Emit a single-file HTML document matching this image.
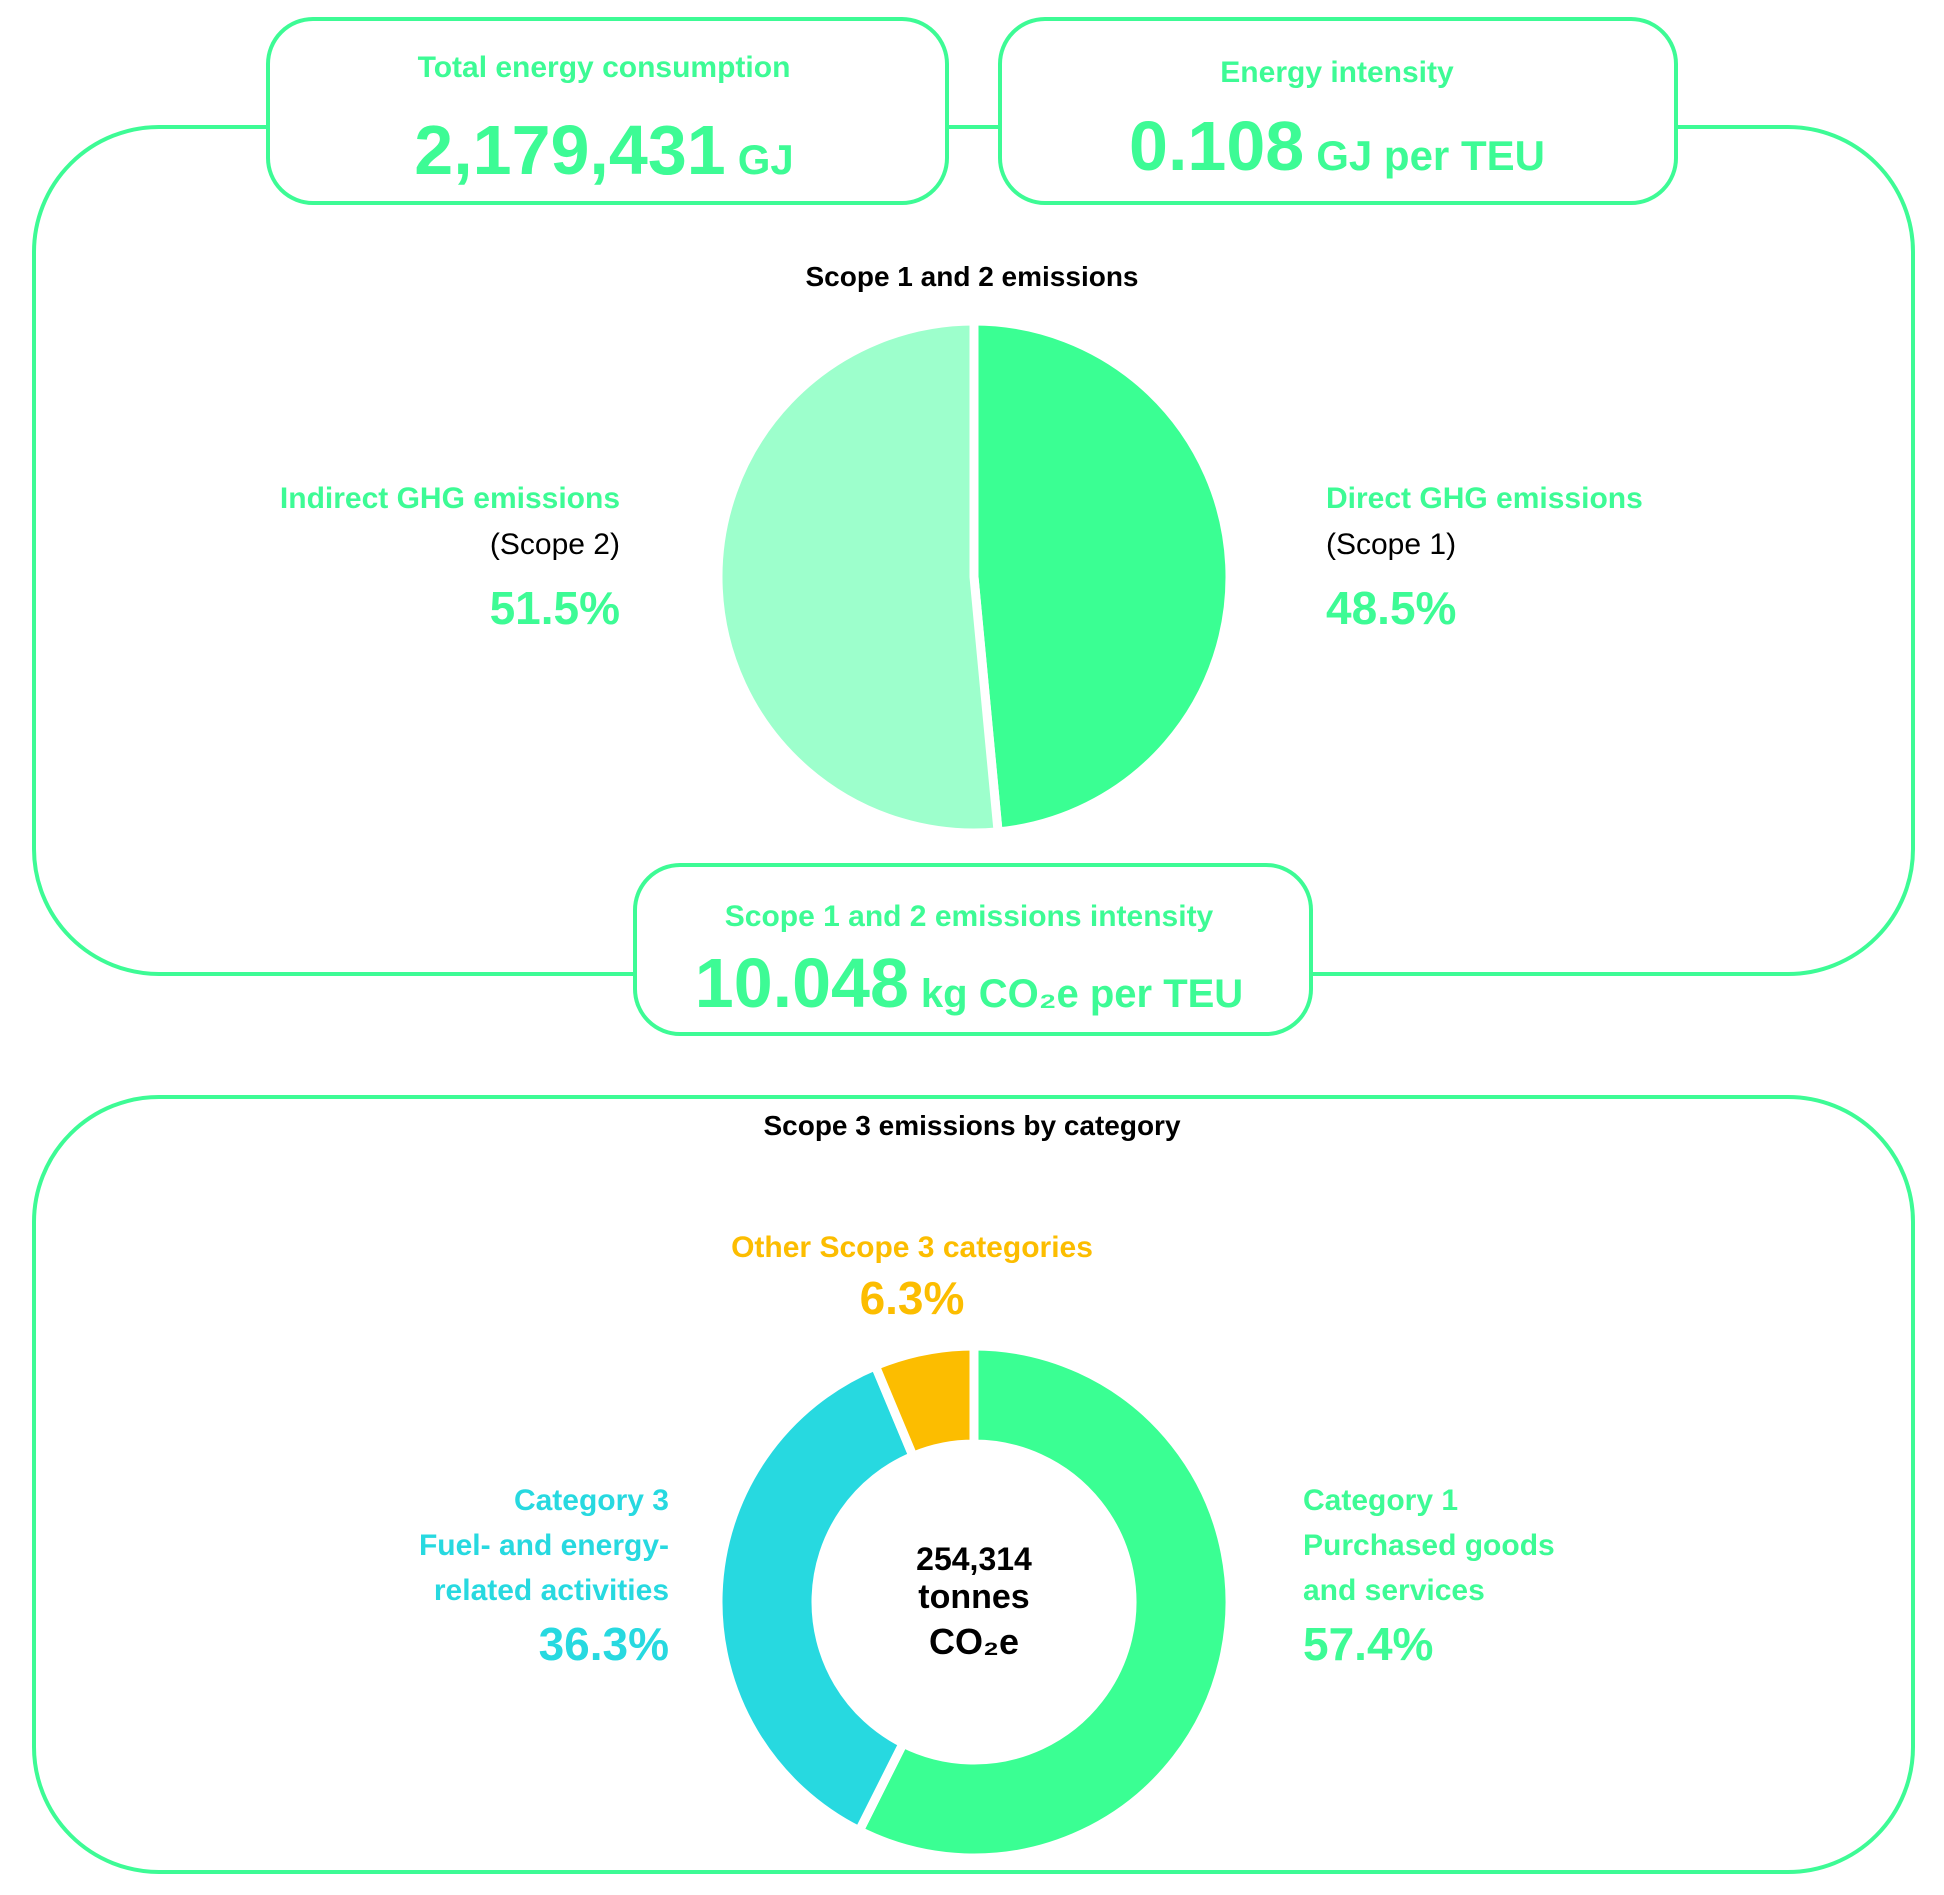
<!DOCTYPE html>
<html><head><meta charset="utf-8"><style>
html,body{margin:0;padding:0;background:#fff}
svg{display:block}
text{font-family:"Liberation Sans",sans-serif}
</style></head><body>
<svg id="chart" width="1944" height="1895" viewBox="0 0 1944 1895" xmlns="http://www.w3.org/2000/svg">
  <rect x="34" y="127" width="1879" height="847" rx="125" fill="none" stroke="#3dfb95" stroke-width="4"/>
  <rect x="34" y="1097" width="1879" height="775" rx="125" fill="none" stroke="#3dfb95" stroke-width="4"/>

  <g>
    <rect x="268" y="19" width="679" height="184" rx="45" fill="#fff" stroke="#3dfb95" stroke-width="4"/>
    <text x="604" y="77" text-anchor="middle" font-size="30" font-weight="bold" fill="#3dfb95">Total energy consumption</text>
    <text x="604" y="174" text-anchor="middle" font-weight="bold" fill="#3dfb95"><tspan font-size="70">2,179,431</tspan><tspan font-size="42" dx="12">GJ</tspan></text>
  </g>
  <g>
    <rect x="1000" y="19" width="676" height="184" rx="45" fill="#fff" stroke="#3dfb95" stroke-width="4"/>
    <text x="1337" y="82" text-anchor="middle" font-size="30" font-weight="bold" fill="#3dfb95">Energy intensity</text>
    <text x="1337" y="170" text-anchor="middle" font-weight="bold" fill="#3dfb95"><tspan font-size="70">0.108</tspan><tspan font-size="42" dx="12">GJ per TEU</tspan></text>
  </g>

  <text x="972" y="286" text-anchor="middle" font-size="28" font-weight="bold" fill="#000">Scope 1 and 2 emissions</text>
  <g id="pie"></g>

  <g>
    <text x="620" y="508" text-anchor="end" font-size="30" font-weight="bold" fill="#3dfb95">Indirect GHG emissions</text>
    <text x="620" y="554" text-anchor="end" font-size="30" fill="#000">(Scope 2)</text>
    <text x="620" y="624" text-anchor="end" font-size="46" font-weight="bold" fill="#3dfb95">51.5%</text>
  </g>
  <g>
    <text x="1326" y="508" font-size="30" font-weight="bold" fill="#3dfb95">Direct GHG emissions</text>
    <text x="1326" y="554" font-size="30" fill="#000">(Scope 1)</text>
    <text x="1326" y="624" font-size="46" font-weight="bold" fill="#3dfb95">48.5%</text>
  </g>

  <g>
    <rect x="635" y="865" width="676" height="169" rx="45" fill="#fff" stroke="#3dfb95" stroke-width="4"/>
    <text x="969" y="926" text-anchor="middle" font-size="30" font-weight="bold" fill="#3dfb95">Scope 1 and 2 emissions intensity</text>
    <text x="969" y="1007" text-anchor="middle" font-weight="bold" fill="#3dfb95"><tspan font-size="70">10.048</tspan><tspan font-size="40" dx="12">kg CO₂e per TEU</tspan></text>
  </g>

  <text x="972" y="1135" text-anchor="middle" font-size="28" font-weight="bold" fill="#000">Scope 3 emissions by category</text>
  <g id="donut"></g>

  <g>
    <text x="912" y="1257" text-anchor="middle" font-size="30" font-weight="bold" fill="#fcbd00">Other Scope 3 categories</text>
    <text x="912" y="1314" text-anchor="middle" font-size="46" font-weight="bold" fill="#fcbd00">6.3%</text>
  </g>
  <g>
    <text x="669" y="1510" text-anchor="end" font-size="30" font-weight="bold" fill="#27d9e0">Category 3</text>
    <text x="669" y="1555" text-anchor="end" font-size="30" font-weight="bold" fill="#27d9e0">Fuel- and energy-</text>
    <text x="669" y="1600" text-anchor="end" font-size="30" font-weight="bold" fill="#27d9e0">related activities</text>
    <text x="669" y="1660" text-anchor="end" font-size="46" font-weight="bold" fill="#27d9e0">36.3%</text>
  </g>
  <g>
    <text x="1303" y="1510" font-size="30" font-weight="bold" fill="#3dfb95">Category 1</text>
    <text x="1303" y="1555" font-size="30" font-weight="bold" fill="#3dfb95">Purchased goods</text>
    <text x="1303" y="1600" font-size="30" font-weight="bold" fill="#3dfb95">and services</text>
    <text x="1303" y="1660" font-size="46" font-weight="bold" fill="#3dfb95">57.4%</text>
  </g>
  <g>
    <text x="974" y="1570" text-anchor="middle" font-size="32" font-weight="bold" fill="#000">254,314</text>
    <text x="974" y="1608" text-anchor="middle" font-size="34" font-weight="bold" fill="#000">tonnes</text>
    <text x="974" y="1654" text-anchor="middle" font-size="36" font-weight="bold" fill="#000">CO₂e</text>
  </g>
</svg>
<script>
const pieCategories = ["Direct GHG emissions (Scope 1)", "Indirect GHG emissions (Scope 2)"];
const pieValues = [48.5, 51.5];
const pieColors = ["#3aff93", "#9dffcc"];
const donutCategories = ["Category 1", "Category 3", "Other Scope 3 categories"];
const donutValues = [57.4, 36.3, 6.3];
const donutColors = ["#3aff93", "#27d9e0", "#fcbd00"];

const NS = "http://www.w3.org/2000/svg";
function pt(cx, cy, r, frac) {
  const a = frac * 2 * Math.PI;
  return [cx + r * Math.sin(a), cy - r * Math.cos(a)];
}
function drawRing(gid, cats, vals, cols, cx, cy, R, r0) {
  const g = document.getElementById(gid);
  const total = vals.reduce((a, b) => a + b, 0);
  let acc = 0;
  vals.forEach((v, i) => {
    const f0 = acc / total, f1 = (acc + v) / total;
    acc += v;
    const large = (f1 - f0) > 0.5 ? 1 : 0;
    const [x0, y0] = pt(cx, cy, R, f0), [x1, y1] = pt(cx, cy, R, f1);
    let d;
    if (r0 > 0) {
      const [a0, b0] = pt(cx, cy, r0, f1), [a1, b1] = pt(cx, cy, r0, f0);
      d = `M${x0},${y0} A${R},${R} 0 ${large} 1 ${x1},${y1} L${a0},${b0} A${r0},${r0} 0 ${large} 0 ${a1},${b1} Z`;
    } else {
      d = `M${cx},${cy} L${x0},${y0} A${R},${R} 0 ${large} 1 ${x1},${y1} Z`;
    }
    const p = document.createElementNS(NS, "path");
    p.setAttribute("d", d);
    p.setAttribute("fill", cols[i]);
    p.setAttribute("stroke", "#fff");
    p.setAttribute("stroke-width", "9");
    p.setAttribute("stroke-linejoin", "miter");
    
    
    g.appendChild(p);
  });
}
drawRing("pie", pieCategories, pieValues, pieColors, 974, 577, 256, 0);
drawRing("donut", donutCategories, donutValues, donutColors, 974, 1602, 256, 158);
</script>
</body></html>
